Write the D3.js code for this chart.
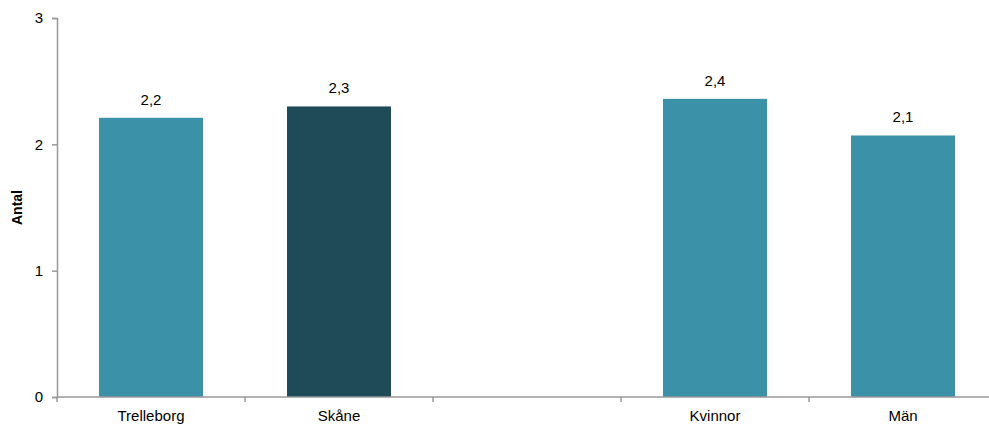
<!DOCTYPE html>
<html>
<head>
<meta charset="utf-8">
<script src="https://cdn.jsdelivr.net/npm/d3@7"></script>
<style>
  body { margin: 0; background: #fff; }
  svg { display: block; font-family: "Liberation Sans", Arial, sans-serif; }
</style>
</head>
<body>
<div id="chart"></div>
<script>
// Bar chart: Antal, Trelleborg vs Skåne, Kvinnor vs Män

const categories = ['Trelleborg', 'Skåne', '', 'Kvinnor', 'Män'];
const values = [2.21, 2.30, null, 2.36, 2.07];
const valueLabels = ['2,2', '2,3', '', '2,4', '2,1'];
const barColors = ['#3a91a8', '#1f4a57', null, '#3a91a8', '#3a91a8'];
const yTicks = [0, 1, 2, 3];

const width = 989, height = 425;
const margin = { top: 18, right: -8, bottom: 28, left: 57 };

const svg = d3.select('#chart').append('svg')
    .attr('width', width).attr('height', height);

const x = d3.scaleBand()
    .domain(d3.range(categories.length))
    .range([margin.left, width - margin.right])
    .paddingInner(0.447).paddingOuter(0.2235);

const y = d3.scaleLinear()
    .domain([0, 3])
    .range([height - margin.bottom, margin.top]);

const axisColor = '#999';

// Bars
svg.append('g').selectAll('rect')
    .data(values.map((v, i) => ({ v, i })).filter(d => d.v != null))
    .join('rect')
    .attr('x', d => x(d.i))
    .attr('y', d => y(d.v))
    .attr('width', x.bandwidth())
    .attr('height', d => y(0) - y(d.v))
    .attr('fill', d => barColors[d.i]);

// Value labels
svg.append('g').selectAll('text')
    .data(values.map((v, i) => ({ v, i })).filter(d => d.v != null))
    .join('text')
    .attr('x', d => x(d.i) + x.bandwidth() / 2)
    .attr('y', d => y(d.v) - 13)
    .attr('text-anchor', 'middle')
    .attr('font-size', '15px')
    .attr('fill', '#000')
    .text(d => valueLabels[d.i]);

// Y axis
const yAxis = svg.append('g')
    .attr('transform', `translate(${margin.left},0)`)
    .call(d3.axisLeft(y).tickValues(yTicks).tickSize(5).tickPadding(9).tickFormat(d3.format('d')));
yAxis.select('.domain').attr('stroke', axisColor).attr('stroke-width', 1.5);
yAxis.selectAll('.tick line').attr('stroke', axisColor).attr('stroke-width', 1.5);
yAxis.selectAll('.tick text').attr('font-size', '15px').attr('fill', '#000')
    .attr('font-family', '"Liberation Sans", Arial, sans-serif');

// X axis baseline and boundary ticks
const xb = svg.append('g');
xb.append('line')
    .attr('x1', margin.left).attr('x2', width)
    .attr('y1', y(0)).attr('y2', y(0))
    .attr('stroke', axisColor).attr('stroke-width', 1.5);
const step = x.step();
for (let i = 0; i <= categories.length; i++) {
    const bx = margin.left + i * step;
    xb.append('line')
        .attr('x1', bx).attr('x2', bx)
        .attr('y1', y(0)).attr('y2', y(0) + 5)
        .attr('stroke', axisColor).attr('stroke-width', 1.5);
}
xb.selectAll('text.cat')
    .data(categories)
    .join('text')
    .attr('class', 'cat')
    .attr('x', (d, i) => x(i) + x.bandwidth() / 2)
    .attr('y', y(0) + 24)
    .attr('text-anchor', 'middle')
    .attr('font-size', '15px')
    .attr('fill', '#000')
    .text(d => d);

// Y axis title
svg.append('text')
    .attr('transform', `translate(22,${(y(0) + y(3)) / 2}) rotate(-90)`)
    .attr('text-anchor', 'middle')
    .attr('font-size', '14px')
    .attr('font-weight', 'bold')
    .text('Antal');
</script>
</body>
</html>
